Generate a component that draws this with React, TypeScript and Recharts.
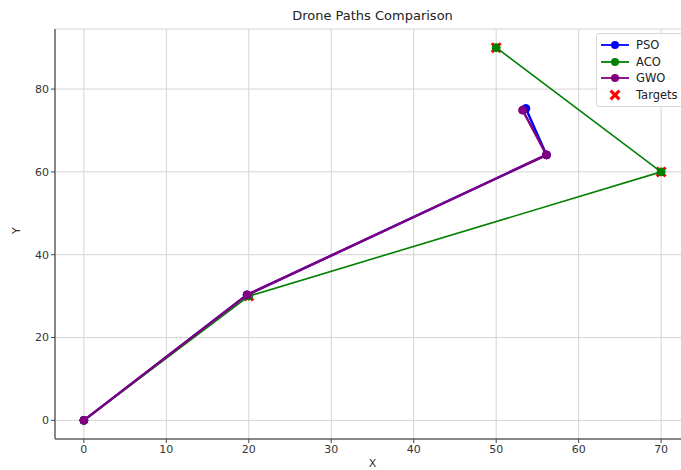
import { ScatterChart, Scatter, XAxis, YAxis, CartesianGrid } from 'recharts';

const psoPath = [
  { x: 0, y: 0 },
  { x: 19.8, y: 30.3 },
  { x: 56.1, y: 64.1 },
  { x: 53.6, y: 75.3 },
];
const acoPath = [
  { x: 0, y: 0 },
  { x: 20, y: 30 },
  { x: 70, y: 60 },
  { x: 50, y: 90 },
];
const gwoPath = [
  { x: 0, y: 0 },
  { x: 19.8, y: 30.3 },
  { x: 56.1, y: 64.1 },
  { x: 53.2, y: 74.9 },
];
const targets = [
  { x: 20, y: 30 },
  { x: 50, y: 90 },
  { x: 70, y: 60 },
];
const xTicks = [0, 10, 20, 30, 40, 50, 60, 70];
const yTicks = [0, 20, 40, 60, 80];

const FONT = '"DejaVu Sans", sans-serif';

const dot = (color: string) => (props: any) => {
  const { cx, cy } = props;
  if (cx == null || cy == null) return <g />;
  return <circle cx={cx} cy={cy} r={4} fill={color} stroke={color} />;
};

const crossPath = (cx: number, cy: number, s: number) => {
  // filled "X" marker like matplotlib's 'X'
  const a = s * 0.5;
  const b = s * 0.2;
  const pts = [
    [-a, -a + b], [-a + b, -a], [0, -b], [a - b, -a], [a, -a + b], [b, 0],
    [a, a - b], [a - b, a], [0, b], [-a + b, a], [-a, a - b], [-b, 0],
  ];
  return 'M' + pts.map(([x, y]) => `${cx + x},${cy + y}`).join('L') + 'Z';
};

const targetShape = (props: any) => {
  const { cx, cy } = props;
  if (cx == null || cy == null) return <g />;
  return <path d={crossPath(cx, cy, 11)} fill="#ff0000" />;
};

const legendItems = [
  { name: 'PSO', color: '#0000ff', kind: 'line' },
  { name: 'ACO', color: '#008000', kind: 'line' },
  { name: 'GWO', color: '#800080', kind: 'line' },
  { name: 'Targets', color: '#ff0000', kind: 'x' },
];

const LegendBox = () => (
  <div
    style={{
      position: 'absolute',
      top: 33,
      left: 596,
      border: '1px solid #d6d6d6',
      borderRadius: 3,
      background: 'rgba(255,255,255,0.85)',
      padding: '3px 14px 3px 4px',
      fontFamily: FONT,
      fontSize: 11.5,
      color: '#222',
      whiteSpace: 'nowrap',
    }}
  >
    {legendItems.map((it) => (
      <div key={it.name} style={{ display: 'flex', alignItems: 'center', height: 16.5 }}>
        <svg width={28} height={12} style={{ marginRight: 7 }}>
          {it.kind === 'line' ? (
            <>
              <line x1={0} y1={6} x2={28} y2={6} stroke={it.color} strokeWidth={1.8} />
              <circle cx={14} cy={6} r={4} fill={it.color} />
            </>
          ) : (
            <path d={crossPath(14, 6, 11)} fill={it.color} />
          )}
        </svg>
        <span>{it.name}</span>
      </div>
    ))}
  </div>
);

export default function App() {
  const tick = { fontSize: 11, fill: '#333', fontFamily: FONT };
  return (
    <div style={{ position: 'absolute', left: 0, top: 0, width: 681, height: 470, overflow: 'hidden', background: '#fff' }}>
      <div
        style={{
          position: 'absolute',
          top: 8,
          left: 55,
          width: 635,
          textAlign: 'center',
          fontFamily: FONT,
          fontSize: 13,
          color: '#222',
        }}
      >
        Drone Paths Comparison
      </div>
      <ScatterChart width={700} height={470} margin={{ top: 29, right: 10, bottom: 0, left: 0 }}>
        <CartesianGrid stroke="#d4d4d4" strokeWidth={1} />
        <XAxis
          type="number"
          dataKey="x"
          domain={[-3.5, 73.5]}
          ticks={xTicks}
          allowDataOverflow
          height={31}
          tick={tick}
          tickSize={4}
          tickLine={{ stroke: '#444' }}
          axisLine={{ stroke: '#666', strokeWidth: 1.5 }}
          label={{ value: 'X', position: 'insideBottom', offset: 3, fontSize: 11, fill: '#333', fontFamily: FONT }}
        />
        <XAxis
          xAxisId="top"
          orientation="top"
          type="number"
          domain={[-3.5, 73.5]}
          height={0}
          tick={false}
          tickLine={false}
          axisLine={{ stroke: '#666', strokeWidth: 1.5 }}
        />
        <YAxis
          type="number"
          dataKey="y"
          domain={[-4.5, 94.5]}
          ticks={yTicks}
          allowDataOverflow
          width={55}
          tick={tick}
          tickSize={4}
          tickLine={{ stroke: '#444' }}
          axisLine={{ stroke: '#666', strokeWidth: 1.5 }}
          label={{ value: 'Y', angle: -90, position: 'insideLeft', offset: 16, fontSize: 11, fill: '#333', fontFamily: FONT }}
        />
        <Scatter name="Targets" data={targets} shape={targetShape} isAnimationActive={false} />
        <Scatter
          name="PSO"
          data={psoPath}
          fill="#0000ff"
          line={{ stroke: '#0000ff', strokeWidth: 2.4 }}
          shape={dot('#0000ff')}
          isAnimationActive={false}
        />
        <Scatter
          name="ACO"
          data={acoPath}
          fill="#008000"
          line={{ stroke: '#008000', strokeWidth: 1.6 }}
          shape={dot('#008000')}
          isAnimationActive={false}
        />
        <Scatter
          name="GWO"
          data={gwoPath}
          fill="#800080"
          line={{ stroke: '#800080', strokeWidth: 2.4 }}
          shape={dot('#800080')}
          isAnimationActive={false}
        />
      </ScatterChart>
      <LegendBox />
    </div>
  );
}
